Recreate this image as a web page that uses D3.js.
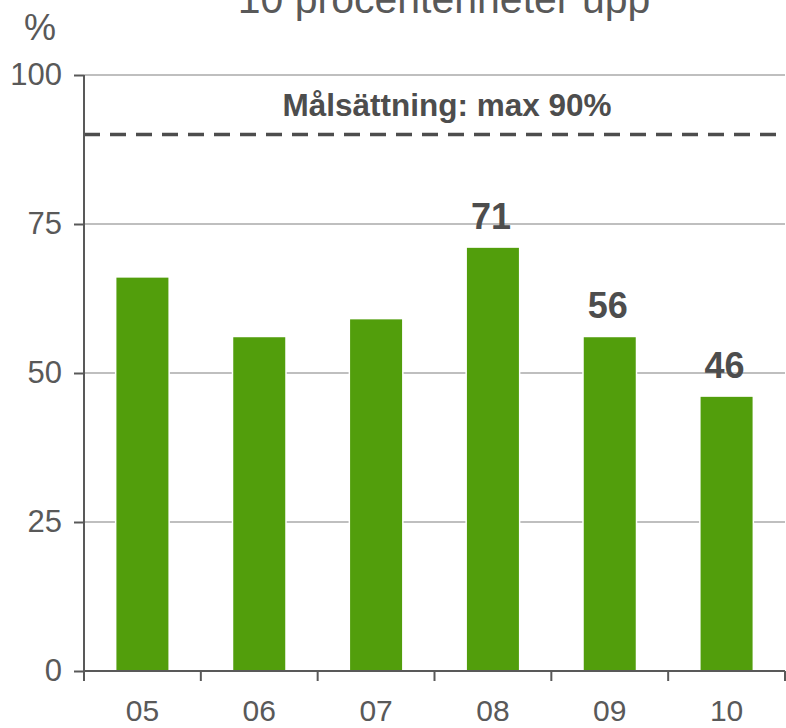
<!DOCTYPE html>
<html>
<head>
<meta charset="utf-8">
<script src="https://cdn.jsdelivr.net/npm/d3@7"></script>
<style>
  body { margin: 0; background: #fff; }
  text { font-family: "Liberation Sans", Arial, sans-serif; }
</style>
</head>
<body>
<div id="chart"></div>
<script>
// data
const years = ["05", "06", "07", "08", "09", "10"];
const shares = [66, 56, 59, 71, 56, 46];
const shownLabels = [false, false, false, true, true, true];
const yTicks = [0, 25, 50, 75, 100];
const target = 90;
const targetText = "Målsättning: max 90%";
const title = "10 procentenheter upp";

const width = 786, height = 728;
const margin = { top: 75, right: 1, bottom: 57, left: 84 };

const svg = d3.select("#chart")
    .append("svg")
    .attr("width", width)
    .attr("height", height);

const x = d3.scaleBand()
    .domain(years)
    .range([margin.left, width - margin.right])
    .paddingInner(0.555)
    .paddingOuter(0.2775);

const y = d3.scaleLinear()
    .domain([0, 100])
    .range([height - margin.bottom, margin.top]);

// title, cut off at the top like in the original
svg.append("text")
    .attr("x", 444)
    .attr("y", 13)
    .attr("text-anchor", "middle")
    .attr("font-size", 41)
    .attr("fill", "#595959")
    .text(title);

svg.append("text")
    .attr("x", 40)
    .attr("y", 40)
    .attr("text-anchor", "middle")
    .attr("font-size", 36)
    .attr("fill", "#595959")
    .text("%");

// gridlines
svg.append("g")
    .selectAll("line")
    .data(yTicks.filter(d => d > 0))
    .enter()
    .append("line")
    .attr("x1", margin.left)
    .attr("x2", width - margin.right)
    .attr("y1", d => y(d))
    .attr("y2", d => y(d))
    .attr("stroke", "#bfbfbf")
    .attr("stroke-width", 2);

// bars with white border that cuts the gridlines
svg.append("g")
    .selectAll("rect")
    .data(shares)
    .enter()
    .append("rect")
    .attr("x", (d, i) => x(years[i]))
    .attr("y", d => y(d))
    .attr("width", x.bandwidth())
    .attr("height", d => y(0) - y(d))
    .attr("fill", "#529e0c")
    .attr("stroke", "#fff")
    .attr("stroke-width", 3)
    .attr("paint-order", "stroke");

// value labels
svg.append("g")
    .selectAll("text")
    .data(shares.map((d, i) => ({ v: d, i: i })).filter(d => shownLabels[d.i]))
    .enter()
    .append("text")
    .attr("x", d => x(years[d.i]) + x.bandwidth() / 2 - 2)
    .attr("y", d => y(d.v) - 19)
    .attr("text-anchor", "middle")
    .attr("font-size", 36)
    .attr("font-weight", "bold")
    .attr("fill", "#4d4d4d")
    .text(d => d.v);

// target line
svg.append("line")
    .attr("x1", margin.left)
    .attr("x2", width)
    .attr("y1", y(target))
    .attr("y2", y(target))
    .attr("stroke", "#4d4d4d")
    .attr("stroke-width", 3.5)
    .attr("stroke-dasharray", "16,10");

svg.append("text")
    .attr("x", 447)
    .attr("y", 116)
    .attr("text-anchor", "middle")
    .attr("font-size", 31.5)
    .attr("font-weight", "bold")
    .attr("fill", "#4d4d4d")
    .text(targetText);

// y axis
const yAxis = svg.append("g")
    .attr("transform", "translate(" + margin.left + ",0)")
    .call(d3.axisLeft(y).tickValues(yTicks).tickSize(10).tickPadding(12));

// x axis, ticks on band edges
const xEdges = years.map(d => x(d) - x.step() * x.paddingInner() / 2).concat([width - margin.right]);
const xAxis = svg.append("g")
    .attr("transform", "translate(0," + y(0) + ")");
xAxis.append("line")
    .attr("x1", margin.left)
    .attr("x2", width - margin.right)
    .attr("stroke", "#595959")
    .attr("stroke-width", 2);
xAxis.selectAll(".edge")
    .data(xEdges)
    .enter()
    .append("line")
    .attr("class", "edge")
    .attr("x1", d => d)
    .attr("x2", d => d)
    .attr("y1", 0)
    .attr("y2", 10)
    .attr("stroke", "#595959")
    .attr("stroke-width", 2);
xAxis.selectAll(".lab")
    .data(years)
    .enter()
    .append("text")
    .attr("class", "lab")
    .attr("x", d => x(d) + x.bandwidth() / 2)
    .attr("y", 50)
    .attr("text-anchor", "middle")
    .attr("font-size", 30)
    .attr("fill", "#595959")
    .text(d => d);

yAxis.select(".domain")
    .attr("d", "M0," + y(0) + "V" + y(100))
    .attr("stroke", "#595959")
    .attr("stroke-width", 2);
yAxis.selectAll(".tick line")
    .attr("stroke", "#595959")
    .attr("stroke-width", 2);
yAxis.selectAll(".tick text")
    .attr("font-size", 31)
    .attr("font-family", "Liberation Sans, Arial, sans-serif")
    .attr("fill", "#595959");
</script>
</body>
</html>
